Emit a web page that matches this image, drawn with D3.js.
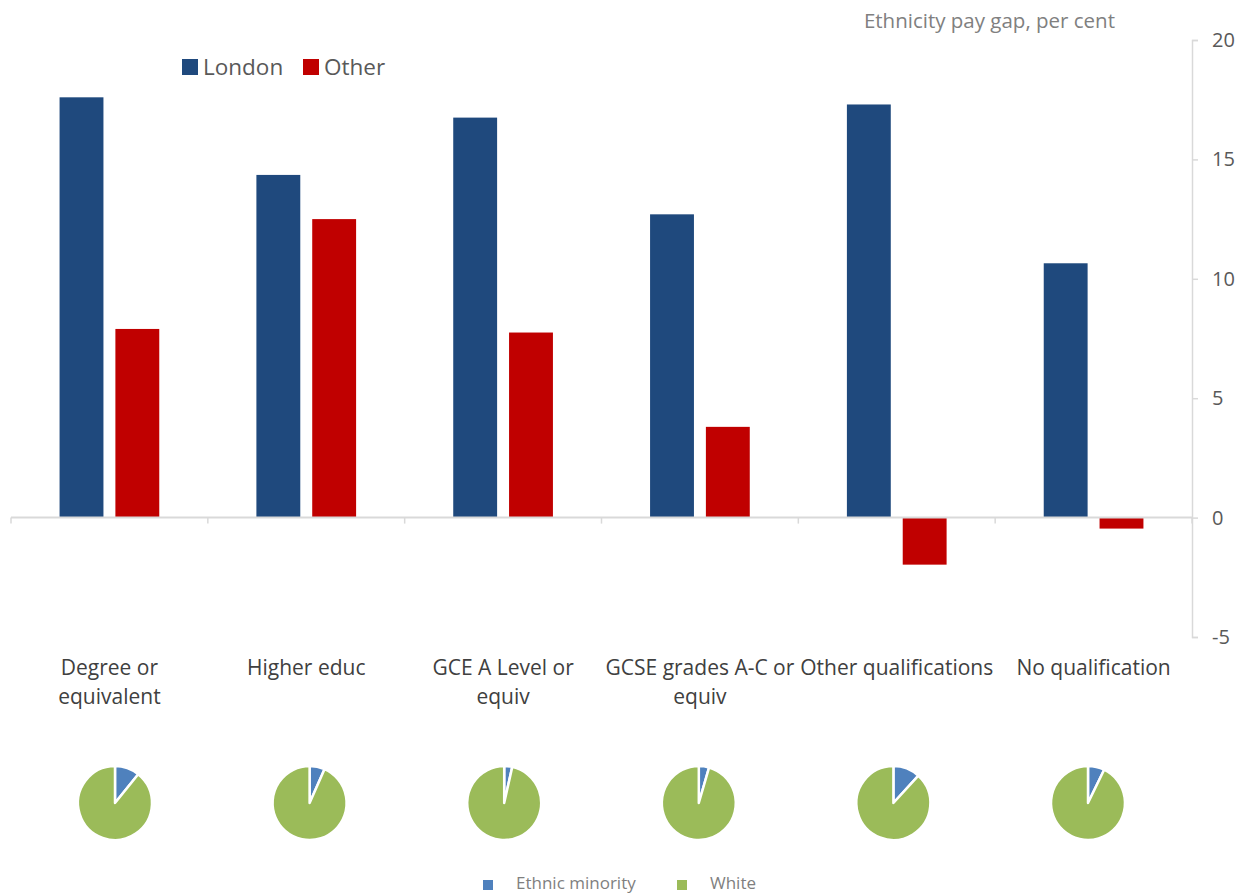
<!DOCTYPE html>
<html>
<head>
<meta charset="utf-8">
<script src="https://cdn.jsdelivr.net/npm/d3@7"></script>
<style>
  html, body { margin: 0; padding: 0; background: #fff; }
  svg { display: block; }
  text { font-family: "Open Sans", sans-serif; }
</style>
</head>
<body>
<svg id="chart" width="1247" height="894"></svg>
<script>
// ---- data ----
const categories = [
  ["Degree or", "equivalent"],
  ["Higher educ"],
  ["GCE A Level or", "equiv"],
  ["GCSE grades A-C or", "equiv"],
  ["Other qualifications"],
  ["No qualification"]
];
const series = ["London", "Other"];
const londonValues = [17.6, 14.35, 16.75, 12.7, 17.3, 10.65];
const otherValues = [7.9, 12.5, 7.75, 3.8, -1.97, -0.46];
const yTicks = [-5, 0, 5, 10, 15, 20];
const pieSeries = ["Ethnic minority", "White"];
const minorityShare = [10.8, 6.6, 3.5, 4.5, 11.8, 7.2]; // per cent of each pie

// ---- styling ----
const barColors = { London: "#1F497D", Other: "#C00000" };
const pieColors = { "Ethnic minority": "#4F81BD", "White": "#9BBB59" };
const axisColor = "#D9D9D9";

const svg = d3.select("#chart");

const plot = { left: 11, right: 1192, top: 40, bottom: 637 };

const x0 = d3.scaleBand()
  .domain(d3.range(categories.length))
  .range([plot.left, plot.right])
  .paddingInner(0).paddingOuter(0);

const x1 = d3.scaleBand()
  .domain(series)
  .range([0, x0.bandwidth()])
  .paddingInner(0.214)
  .paddingOuter(0.87);

const y = d3.scaleLinear().domain([-5, 20]).range([plot.bottom, plot.top]);

// bars
const rows = categories.map((c, i) => ({ i, London: londonValues[i], Other: otherValues[i] }));
const g = svg.append("g");
rows.forEach(r => {
  series.forEach(s => {
    const v = r[s];
    g.append("rect")
      .attr("x", x0(r.i) + x1(s))
      .attr("width", x1.bandwidth())
      .attr("y", y(Math.max(0, v)))
      .attr("height", Math.abs(y(v) - y(0)))
      .attr("fill", barColors[s]);
  });
});

// category axis at zero
const xAxisG = svg.append("g");
xAxisG.append("line")
  .attr("x1", plot.left).attr("x2", plot.right)
  .attr("y1", y(0)).attr("y2", y(0))
  .attr("stroke", axisColor).attr("stroke-width", 2);
d3.range(categories.length + 1).forEach(i => {
  const xx = i < categories.length ? x0(i) : plot.right;
  xAxisG.append("line")
    .attr("x1", xx).attr("x2", xx)
    .attr("y1", y(0)).attr("y2", y(0) + 6)
    .attr("stroke", axisColor).attr("stroke-width", 1.5);
});

// category labels
categories.forEach((lines, i) => {
  const cx = x0(i) + x0.bandwidth() / 2;
  const t = svg.append("text")
    .attr("x", cx)
    .attr("y", 675)
    .attr("text-anchor", "middle")
    .attr("font-size", 21)
    .attr("fill", "#404040");
  lines.forEach((ln, k) => {
    t.append("tspan").attr("x", cx).attr("dy", k === 0 ? 0 : 29).text(ln);
  });
});

// value axis on the right
const yAxis = d3.axisRight(y).tickValues(yTicks).tickSize(6).tickPadding(14).tickFormat(d => String(d));
const yAxisG = svg.append("g")
  .attr("transform", `translate(${plot.right},0)`)
  .call(yAxis);
yAxisG.select(".domain").attr("stroke", axisColor).attr("stroke-width", 1.5);
yAxisG.selectAll(".tick line").attr("stroke", axisColor).attr("stroke-width", 1.5);
yAxisG.selectAll(".tick text")
  .attr("font-family", "Open Sans, sans-serif")
  .attr("font-size", 20)
  .attr("fill", "#595959");

// axis title
svg.append("text")
  .attr("x", 1115).attr("y", 28)
  .attr("text-anchor", "end")
  .attr("font-size", 20.5)
  .attr("fill", "#808080")
  .text("Ethnicity pay gap, per cent");

// top legend
const legend = svg.append("g").attr("transform", "translate(182,59)");
const legendX = { London: 0, Other: 121 };
series.forEach(s => {
  const lg = legend.append("g").attr("transform", `translate(${legendX[s]},0)`);
  lg.append("rect").attr("width", 16).attr("height", 16).attr("fill", barColors[s]);
  lg.append("text").attr("x", 21).attr("y", 16)
    .attr("font-size", 22.5).attr("fill", "#595959").text(s);
});

// pies
const pieX = d3.scalePoint().domain(d3.range(categories.length)).range([115, 1088]);
const pie = d3.pie().sort(null).value(d => d.value);
const arc = d3.arc().innerRadius(0).outerRadius(37);
minorityShare.forEach((m, i) => {
  const data = [
    { key: "Ethnic minority", value: m },
    { key: "White", value: 100 - m }
  ];
  const pg = svg.append("g").attr("transform", `translate(${pieX(i)},803)`);
  pg.selectAll("path").data(pie(data)).join("path")
    .attr("d", arc)
    .attr("fill", d => pieColors[d.data.key])
    .attr("stroke", "#fff")
    .attr("stroke-width", 2.5)
    .attr("stroke-linejoin", "round");
});

// pie legend
const pl = svg.append("g");
const plX = { "Ethnic minority": 483, "White": 677 };
pieSeries.forEach(s => {
  pl.append("rect").attr("x", plX[s]).attr("y", 880).attr("width", 10).attr("height", 10)
    .attr("fill", pieColors[s]);
  pl.append("text").attr("x", plX[s] + 33).attr("y", 889)
    .attr("font-family", "Liberation Sans, Arial, sans-serif")
    .attr("font-size", 17).attr("fill", "#7F7F7F").text(s);
});
</script>
</body>
</html>
